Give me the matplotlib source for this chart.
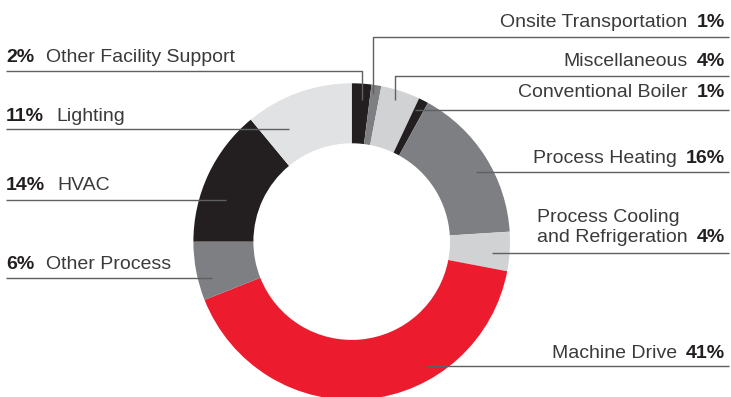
import matplotlib
matplotlib.use("Agg")
import matplotlib.pyplot as plt

# ---- data ----
categories = ["Other Facility Support", "Onsite Transportation", "Miscellaneous",
              "Conventional Boiler", "Process Heating",
              "Process Cooling\nand Refrigeration", "Machine Drive",
              "Other Process", "HVAC", "Lighting"]
shares = [2, 1, 4, 1, 16, 4, 41, 6, 14, 11]
pct_labels = [f"{v}%" for v in shares]

# ---- style ----
BLACK = "#231f20"
GREY = "#7e7f83"
LGREY = "#d1d2d4"
XLGREY = "#e1e2e3"
RED = "#ec1c2e"
colors = [BLACK, GREY, LGREY, BLACK, GREY, LGREY, RED, GREY, BLACK, XLGREY]

W, H = 731, 397
FONT = "Liberation Sans"
FS = 14
TXT = "#3a3a3c"
LINE = "#5f6062"

fig = plt.figure(figsize=(W / 100, H / 100), dpi=100)
ax = fig.add_axes([0, 0, 1, 1])

cx, cy, R, ring = 351.7, H - 241.6, 158.3, 60.0
ax.pie(shares, colors=colors, startangle=90, counterclock=False,
       center=(cx, cy), radius=R,
       wedgeprops=dict(width=ring, linewidth=0))
ax.set_xlim(0, W)
ax.set_ylim(0, H)
ax.set_aspect("auto")
ax.axis("off")

# label layout (pixel coords from top): side, text baseline, line y, line inner x, elbow end y
layout = {
    "Other Facility Support": ("L", 62, 71, 362, 100),
    "Lighting": ("L", 121, 129, 289, None),
    "HVAC": ("L", 190, 200, 226, None),
    "Other Process": ("L", 269, 278, 212, None),
    "Onsite Transportation": ("R", 27, 37, 373, 94),
    "Miscellaneous": ("R", 66, 76, 395, 100),
    "Conventional Boiler": ("R", 97, 110, 415, None),
    "Process Heating": ("R", 163, 172, 476, None),
    "Process Cooling\nand Refrigeration": ("R", 242, 253, 492, None),
    "Machine Drive": ("R", 358, 366, 427, None),
}

fig.canvas.draw()
rend = fig.canvas.get_renderer()
GAP_L, GAP_R = 12, 9
XL, XR = 6, 725

for name, pct in zip(categories, pct_labels):
    side, tb, ly, lx, ey = layout[name]
    y = H - tb
    if side == "L":
        t = ax.text(XL, y, pct, fontsize=FS, fontweight="bold", family=FONT,
                    color=BLACK, ha="left", va="baseline")
        bb = t.get_window_extent(rend)
        ax.text(bb.x1 + GAP_L, y, name, fontsize=FS, family=FONT, color=TXT,
                ha="left", va="baseline")
        xs = [XL, lx] + ([lx] if ey else [])
        ys = [H - ly, H - ly] + ([H - ey] if ey else [])
    else:
        t = ax.text(XR, y, pct, fontsize=FS, fontweight="bold", family=FONT,
                    color=BLACK, ha="right", va="baseline")
        bb = t.get_window_extent(rend)
        lines = name.split("\n")
        n = ax.text(bb.x0 - GAP_R, y, lines[-1], fontsize=FS, family=FONT, color=TXT,
                    ha="right", va="baseline")
        if len(lines) > 1:
            nb = n.get_window_extent(rend)
            ax.text(nb.x0, y + 20, lines[0], fontsize=FS, family=FONT, color=TXT,
                    ha="left", va="baseline")
        xs = [729, lx] + ([lx] if ey else [])
        ys = [H - ly, H - ly] + ([H - ey] if ey else [])
    ax.plot(xs, ys, color=LINE, lw=1.0, solid_capstyle="butt")

fig.savefig("out.png", dpi=100)
